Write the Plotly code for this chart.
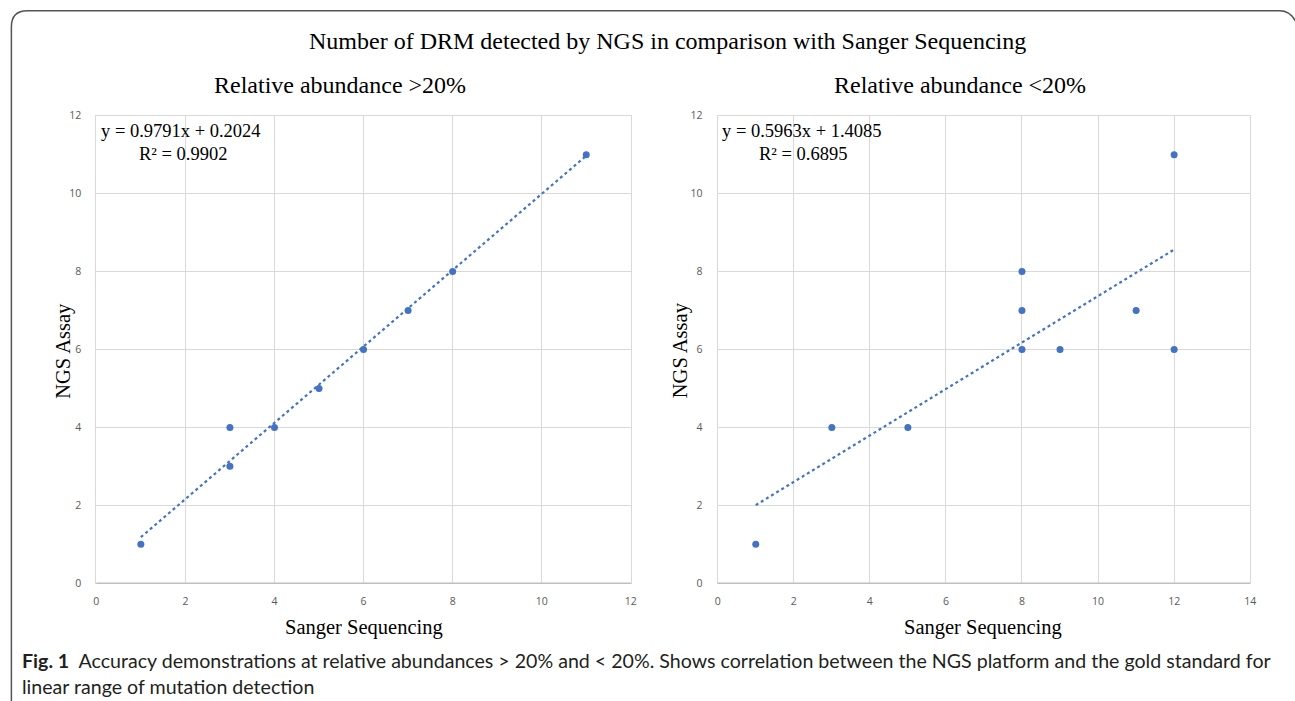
import plotly.graph_objects as go

# ---- data ----
sanger_hi = [1, 3, 3, 4, 5, 6, 7, 8, 11]
ngs_hi = [1, 3, 4, 4, 5, 6, 7, 8, 11]
sanger_lo = [1, 3, 5, 8, 8, 8, 9, 11, 12, 12]
ngs_lo = [1, 4, 4, 8, 7, 6, 6, 7, 11, 6]
fit_hi = (0.9791, 0.2024)   # slope, intercept (from chart)
fit_lo = (0.5963, 1.4085)
eq_hi = ["y = 0.9791x + 0.2024", "R² = 0.9902"]
eq_lo = ["y = 0.5963x + 1.4085", "R² = 0.6895"]
x_ticks_hi = [0, 2, 4, 6, 8, 10, 12]
x_ticks_lo = [0, 2, 4, 6, 8, 10, 12, 14]
y_ticks = [0, 2, 4, 6, 8, 10, 12]

W, H = 1295, 701
BLUE = "#4472C4"
GRID = "#d9d9d9"
SERIF = "Liberation Serif, Times New Roman, serif"

# empirical screen-to-layout correction
XA, XB = 0.994, 1.6
YA, YB = 0.981, 6.2


def px(x):
    return ((x - XB) / XA) / W


def py(y):
    return 1 - ((y - YB) / YA) / H


fig = go.Figure()


def add_panel(xs, ys, fit, xa, ya):
    fig.add_trace(go.Scatter(x=xs, y=ys, mode="markers", xaxis=xa, yaxis=ya,
                             marker=dict(color=BLUE, size=7), showlegend=False))
    x0, x1 = min(xs), max(xs)
    fig.add_trace(go.Scatter(x=[x0, x1], y=[fit[0] * x0 + fit[1], fit[0] * x1 + fit[1]],
                             mode="lines", xaxis=xa, yaxis=ya,
                             line=dict(color=BLUE, width=2.2, dash="dot"), showlegend=False))


add_panel(sanger_hi, ngs_hi, fit_hi, "x", "y")
add_panel(sanger_lo, ngs_lo, fit_lo, "x2", "y2")

ydom = [py(583), py(115)]
axis_common = dict(showgrid=True, gridcolor=GRID, gridwidth=1, zeroline=False,
                   showline=True, linecolor=GRID, linewidth=1, mirror=True,
                   ticks="", tickfont=dict(family="Open Sans, sans-serif", size=10.5, color="#595959"),
                   fixedrange=True)

fig.update_layout(
    width=W, height=H,
    margin=dict(l=0, r=0, t=0, b=0),
    paper_bgcolor="white", plot_bgcolor="white",
    xaxis=dict(domain=[px(95), px(630)], range=[0, 12], tickvals=x_ticks_hi, anchor="y",
               ticklabelstandoff=8, **axis_common),
    yaxis=dict(domain=ydom, range=[0, 12], tickvals=y_ticks, anchor="x",
               ticklabelstandoff=12, **axis_common),
    xaxis2=dict(domain=[px(717), px(1250)], range=[0, 14], tickvals=x_ticks_lo, anchor="y2",
                ticklabelstandoff=8, **axis_common),
    yaxis2=dict(domain=ydom, range=[0, 12], tickvals=y_ticks, anchor="x2",
                ticklabelstandoff=12, **axis_common),
)

# bottom axis lines slightly darker
fig.add_shape(type="line", xref="paper", yref="paper", x0=px(95), x1=px(630), y0=py(583), y1=py(583),
              line=dict(color="#bfbfbf", width=1.5))
fig.add_shape(type="line", xref="paper", yref="paper", x0=px(717), x1=px(1250), y0=py(583), y1=py(583),
              line=dict(color="#bfbfbf", width=1.5))

# outer frame (left + top, rounded corners)
path = (f"M {px(10)} {py(705)} L {px(10)} {py(26)} Q {px(10)} {py(10)} {px(26)} {py(10)} "
        f"L {px(1280)} {py(10)} Q {px(1292)} {py(10)} {px(1298)} {py(26)}")
fig.add_shape(type="path", path=path, xref="paper", yref="paper",
              line=dict(color="#555555", width=1.5))


def ann(text, x, y, size, family=SERIF, color="black", xanchor="center", angle=0, yanchor="middle"):
    fig.add_annotation(text=text, x=px(x), y=py(y), xref="paper", yref="paper",
                       showarrow=False, xanchor=xanchor, yanchor=yanchor, textangle=angle,
                       font=dict(family=family, size=size, color=color))


ann("Number of DRM detected by NGS in comparison with Sanger Sequencing", 667, 40, 24)
ann("Relative abundance >20%", 339, 84, 24)
ann("Relative abundance <20%", 960, 84, 24)
ann("Sanger Sequencing", 363, 627, 20.5)
ann("Sanger Sequencing", 983, 627, 20.5)
ann("NGS Assay", 62, 350, 20.5, angle=-90)
ann("NGS Assay", 680, 350, 20.5, angle=-90)

ann(eq_hi[0], 98, 130, 18.5, xanchor="left")
ann(eq_hi[1], 136, 153, 18.5, xanchor="left")
ann(eq_lo[0], 719, 130, 18.5, xanchor="left")
ann(eq_lo[1], 756, 153, 18.5, xanchor="left")

CAP = "Lato, Open Sans, sans-serif"
ann("<b>Fig. 1</b>  Accuracy demonstrations at relative abundances > 20% and < 20%. "
    "Shows correlation between the NGS platform and the gold standard for",
    19, 660, 19.6, family=CAP, color="#231f20", xanchor="left")
ann("linear range of mutation detection", 19, 686, 19.6, family=CAP, color="#231f20", xanchor="left")

fig.write_html("out.html", config={"displayModeBar": False},
               post_script="document.body.style.margin='0';document.body.style.padding='0';"
                           "document.body.style.overflow='hidden';")
